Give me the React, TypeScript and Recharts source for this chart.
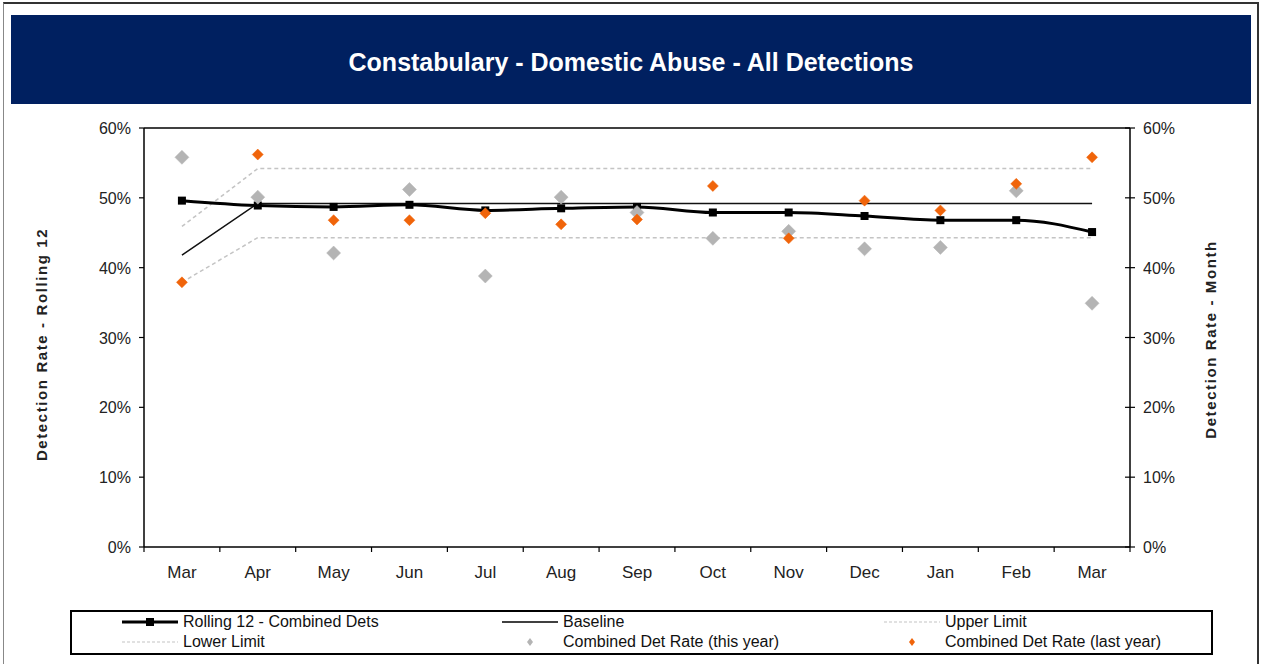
import React from "react";
import { ComposedChart, Line, XAxis, YAxis, ReferenceLine, Label } from "recharts";

// monthly figures (percent)
const months = ["Mar", "Apr", "May", "Jun", "Jul", "Aug", "Sep", "Oct", "Nov", "Dec", "Jan", "Feb", "Mar"];
const rolling12 = [49.6, 48.9, 48.7, 49.0, 48.2, 48.5, 48.7, 47.9, 47.9, 47.4, 46.8, 46.8, 45.1];
const baseline = [41.8, 49.2, 49.2, 49.2, 49.2, 49.2, 49.2, 49.2, 49.2, 49.2, 49.2, 49.2, 49.2];
const upperLimit = [45.9, 54.2, 54.2, 54.2, 54.2, 54.2, 54.2, 54.2, 54.2, 54.2, 54.2, 54.2, 54.2];
const lowerLimit = [37.9, 44.3, 44.3, 44.3, 44.3, 44.3, 44.3, 44.3, 44.3, 44.3, 44.3, 44.3, 44.3];
const thisYear = [55.8, 50.1, 42.1, 51.2, 38.8, 50.1, 47.9, 44.2, 45.2, 42.7, 42.9, 51.0, 34.9];
const lastYear = [37.9, 56.2, 46.8, 46.8, 47.8, 46.2, 46.9, 51.7, 44.2, 49.6, 48.2, 52.0, 55.8];
const yTicks = [0, 10, 20, 30, 40, 50, 60];

const data = months.map((m, i) => ({
  month: m,
  rolling: rolling12[i],
  baseline: baseline[i],
  upper: upperLimit[i],
  lower: lowerLimit[i],
  thisYear: thisYear[i],
  lastYear: lastYear[i],
}));

const FONT = '"Liberation Sans", Arial, sans-serif';
const NAVY = "#002060";
const GREY = "#b4b4b4";
const ORANGE = "#f0640a";
const LIMIT = "#c4c4c4";
const HALF_STEP = 986 / 13 / 2;

const diamond = (fill: string, r: number) => (props: any) => {
  const { cx, cy, index } = props;
  if (cx == null || cy == null) return <g key={index} />;
  return (
    <path
      key={index}
      d={`M${cx},${cy - r}L${cx + r},${cy}L${cx},${cy + r}L${cx - r},${cy}Z`}
      fill={fill}
      stroke={fill}
      strokeWidth={0.5}
    />
  );
};

const square = (props: any) => {
  const { cx, cy, index } = props;
  return <rect key={index} x={cx - 4} y={cy - 4} width={8} height={8} fill="#000" />;
};

const XTick = (props: any) => {
  const { x, y, payload, index } = props;
  const last = index === months.length - 1;
  return (
    <g>
      <line x1={x - HALF_STEP} x2={x - HALF_STEP} y1={y} y2={y + 5} stroke="#000" strokeWidth={1.2} />
      {last && <line x1={x + HALF_STEP} x2={x + HALF_STEP} y1={y} y2={y + 5} stroke="#000" strokeWidth={1.2} />}
      <text x={x} y={y + 31} textAnchor="middle" fontFamily={FONT} fontSize={17} fill="#222">
        {payload.value}
      </text>
    </g>
  );
};

const LeftTick = (props: any) => {
  const { x, y, payload } = props;
  return (
    <g>
      <line x1={x - 5} x2={x} y1={y} y2={y} stroke="#000" strokeWidth={1.2} />
      <text x={x - 13} y={y + 6} textAnchor="end" fontFamily={FONT} fontSize={16} fill="#222">
        {payload.value}%
      </text>
    </g>
  );
};

const RightTick = (props: any) => {
  const { x, y, payload } = props;
  return (
    <g>
      <line x1={x - 5} x2={x + 5} y1={y} y2={y} stroke="#000" strokeWidth={1.2} />
      <text x={x + 13} y={y + 6} textAnchor="start" fontFamily={FONT} fontSize={16} fill="#222">
        {payload.value}%
      </text>
    </g>
  );
};

const axisTitle = (text: string, x: number, shift: number) => (props: any) => {
  const vb = props.viewBox || { y: 128, height: 419 };
  const cy = vb.y + vb.height / 2 + shift;
  return (
    <text
      transform={`translate(${x}, ${cy}) rotate(-90)`}
      textAnchor="middle"
      fontFamily={FONT}
      fontSize={15}
      fontWeight="bold"
      letterSpacing={1.6}
      fill="#222"
    >
      {text}
    </text>
  );
};

const legendItems = [
  { label: "Rolling 12 - Combined Dets", kind: "rolling", left: 50, top: 0 },
  { label: "Baseline", kind: "baseline", left: 430, top: 0 },
  { label: "Upper Limit", kind: "limit", left: 812, top: 0 },
  { label: "Lower Limit", kind: "limit", left: 50, top: 20 },
  { label: "Combined Det Rate (this year)", kind: "grey", left: 430, top: 20 },
  { label: "Combined Det Rate (last year)", kind: "orange", left: 812, top: 20 },
];

function LegendIcon({ kind }: { kind: string }) {
  return (
    <svg width={58} height={20} style={{ display: "block" }}>
      {kind === "rolling" && (
        <>
          <line x1={0} x2={56} y1={10} y2={10} stroke="#000" strokeWidth={3} />
          <rect x={24} y={6} width={8} height={8} fill="#000" />
        </>
      )}
      {kind === "baseline" && <line x1={0} x2={56} y1={10} y2={10} stroke="#000" strokeWidth={1.5} />}
      {kind === "limit" && (
        <line x1={0} x2={56} y1={10} y2={10} stroke={LIMIT} strokeWidth={1.2} strokeDasharray="3 2" />
      )}
      {kind === "grey" && <path d="M28,6L31,10L28,14L25,10Z" fill={GREY} />}
      {kind === "orange" && <path d="M28,6L31,10L28,14L25,10Z" fill={ORANGE} />}
    </svg>
  );
}

export default function App() {
  return (
    <div
      style={{
        position: "absolute",
        left: 0,
        top: 0,
        width: 1261,
        height: 664,
        background: "#fff",
        overflow: "hidden",
        fontFamily: FONT,
      }}
    >
      <div
        style={{
          position: "absolute",
          left: 3,
          top: 2,
          width: 1253,
          height: 700,
          borderTop: "2px solid #333",
          borderRight: "2px solid #333",
          borderLeft: "1px solid #888",
        }}
      />
      <div
        style={{
          position: "absolute",
          left: 11,
          top: 15,
          width: 1240,
          height: 89,
          background: NAVY,
          color: "#fff",
          fontWeight: "bold",
          fontSize: 25,
          textAlign: "center",
          lineHeight: "94px",
        }}
      >
        Constabulary - Domestic Abuse - All Detections
      </div>
      <div style={{ position: "absolute", left: 0, top: 0 }}>
        <ComposedChart width={1261} height={664} data={data} margin={{ top: 128, right: 71, bottom: 77, left: 84 }}>
          <XAxis
            dataKey="month"
            height={40}
            padding={{ left: HALF_STEP, right: HALF_STEP }}
            axisLine={{ stroke: "#000", strokeWidth: 1.5 }}
            tickLine={false}
            tickSize={0}
            tickMargin={0}
            interval={0}
            tick={<XTick />}
          />
          <YAxis
            yAxisId="left"
            width={60}
            domain={[0, 60]}
            ticks={yTicks}
            axisLine={{ stroke: "#000", strokeWidth: 1.5 }}
            tickLine={false}
            tickSize={0}
            tickMargin={0}
            tick={<LeftTick />}
          >
            <Label content={axisTitle("Detection Rate - Rolling 12", 47, 7)} />
          </YAxis>
          <YAxis
            yAxisId="right"
            orientation="right"
            width={60}
            domain={[0, 60]}
            ticks={yTicks}
            axisLine={{ stroke: "#000", strokeWidth: 1.5 }}
            tickLine={false}
            tickSize={0}
            tickMargin={0}
            tick={<RightTick />}
          >
            <Label content={axisTitle("Detection Rate - Month", 1216, 2)} />
          </YAxis>
          <ReferenceLine yAxisId="left" y={60} stroke="#000" strokeWidth={1.5} />
          <Line
            yAxisId="left"
            dataKey="upper"
            type="linear"
            stroke={LIMIT}
            strokeWidth={1.5}
            strokeDasharray="4 3"
            dot={false}
            activeDot={false}
            isAnimationActive={false}
          />
          <Line
            yAxisId="left"
            dataKey="lower"
            type="linear"
            stroke={LIMIT}
            strokeWidth={1.5}
            strokeDasharray="4 3"
            dot={false}
            activeDot={false}
            isAnimationActive={false}
          />
          <Line
            yAxisId="left"
            dataKey="baseline"
            type="linear"
            stroke="#111"
            strokeWidth={1.5}
            dot={false}
            activeDot={false}
            isAnimationActive={false}
          />
          <Line
            yAxisId="left"
            dataKey="rolling"
            type="monotone"
            stroke="#000"
            strokeWidth={3}
            dot={square}
            activeDot={false}
            isAnimationActive={false}
          />
          <Line
            yAxisId="right"
            dataKey="thisYear"
            stroke="none"
            dot={diamond(GREY, 7)}
            activeDot={false}
            isAnimationActive={false}
          />
          <Line
            yAxisId="right"
            dataKey="lastYear"
            stroke="none"
            dot={diamond(ORANGE, 5.5)}
            activeDot={false}
            isAnimationActive={false}
          />
        </ComposedChart>
      </div>
      <div
        style={{
          position: "absolute",
          left: 70,
          top: 610,
          width: 1139,
          height: 41,
          border: "2px solid #000",
          background: "#fff",
        }}
      >
        {legendItems.map((it) => (
          <div
            key={it.label}
            style={{
              position: "absolute",
              left: it.left,
              top: it.top,
              height: 20,
              display: "flex",
              alignItems: "center",
              fontSize: 16,
              color: "#111",
              whiteSpace: "nowrap",
            }}
          >
            <LegendIcon kind={it.kind} />
            <span style={{ marginLeft: 3 }}>{it.label}</span>
          </div>
        ))}
      </div>
    </div>
  );
}
